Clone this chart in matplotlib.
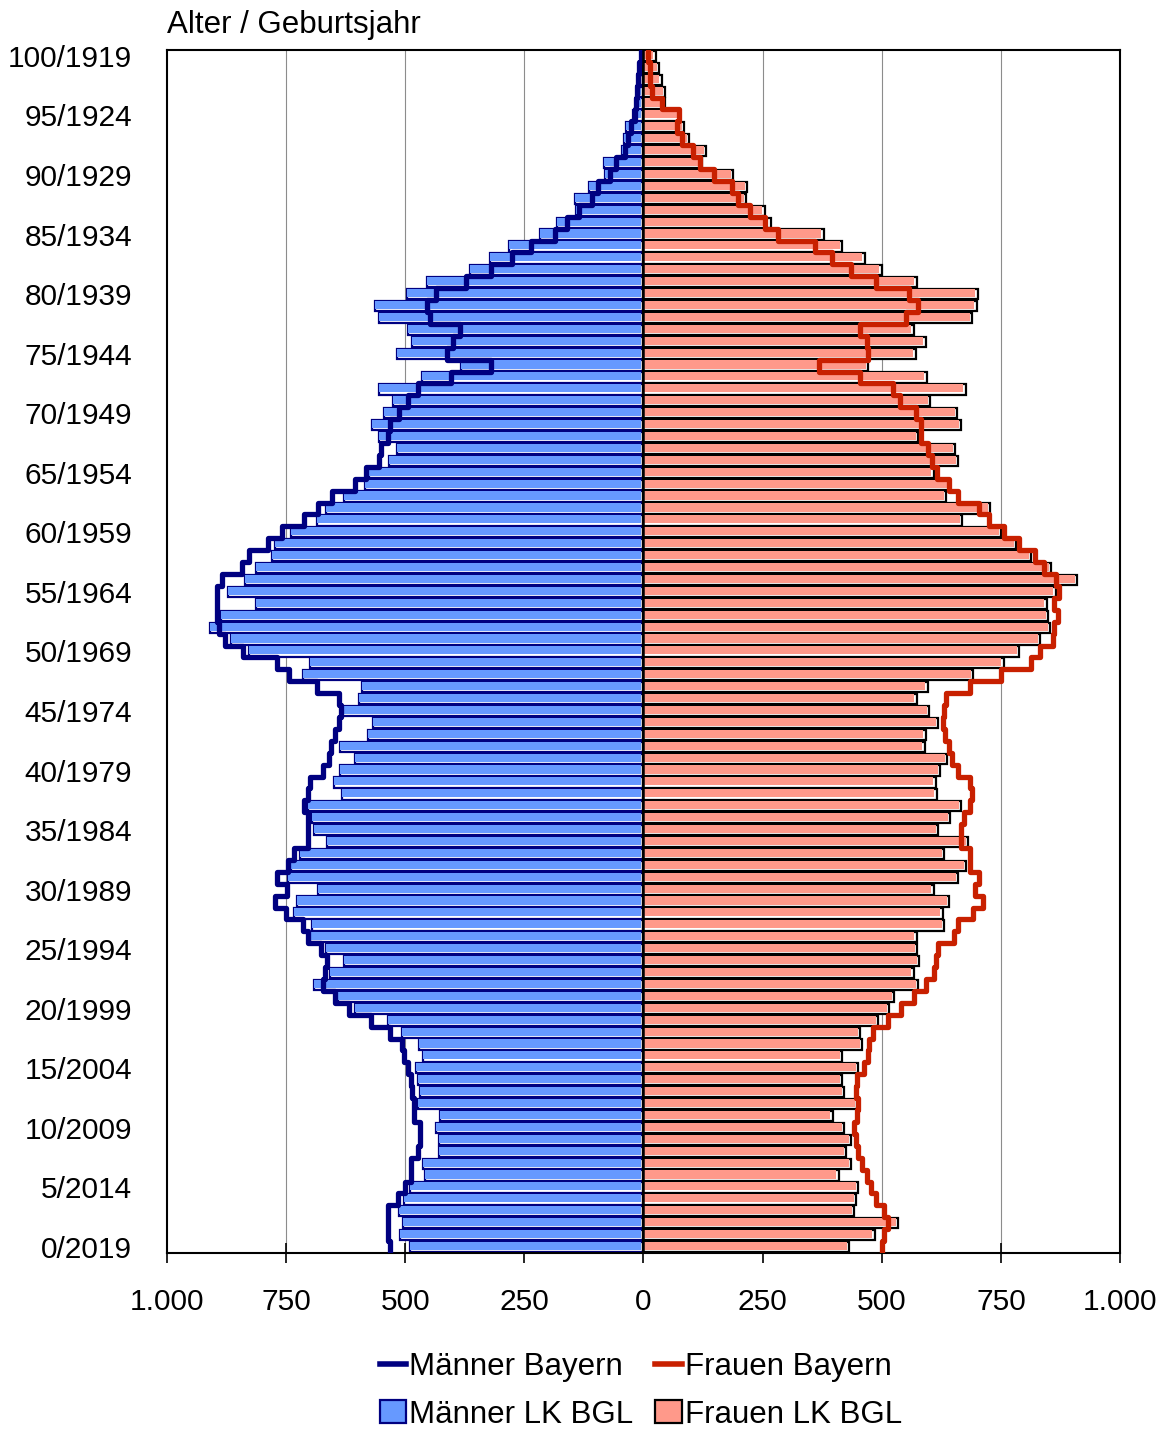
import numpy as np
from matplotlib import pyplot as plt
from matplotlib.patches import Patch
from matplotlib.lines import Line2D

plt.rcParams['font.family'] = ['Liberation Sans', 'DejaVu Sans']

# age 0 .. 100, reference year 2019
ages = np.arange(0, 101)
ref_year = 2019

# Landkreis BGL (bars)
men_bgl = [490, 510, 504, 513, 503, 491, 459, 462, 429, 429,
           436, 426, 474, 469, 474, 477, 462, 472, 506, 536,
           605, 641, 692, 658, 628, 667, 699, 695, 733, 728,
           682, 746, 740, 721, 664, 692, 695, 703, 632, 650,
           637, 605, 637, 579, 567, 633, 596, 590, 714, 699,
           827, 865, 910, 887, 814, 872, 836, 814, 779, 773,
           740, 686, 667, 628, 585, 577, 533, 518, 556, 569,
           544, 526, 556, 464, 382, 518, 485, 494, 556, 564,
           497, 454, 365, 323, 282, 218, 182, 141, 144, 115,
           80, 83, 45, 41, 36, 22, 15, 10, 8, 6, 5]
women_bgl = [432, 485, 535, 442, 446, 451, 410, 436, 426, 436,
             421, 397, 449, 421, 417, 451, 417, 459, 455, 492,
             515, 526, 577, 567, 578, 574, 573, 631, 628, 641,
             609, 660, 677, 631, 682, 619, 644, 667, 615, 613,
             622, 637, 590, 592, 618, 600, 573, 596, 692, 756,
             788, 833, 853, 849, 846, 865, 910, 855, 814, 782,
             750, 669, 728, 635, 641, 609, 660, 654, 577, 667,
             658, 601, 676, 594, 471, 571, 592, 567, 690, 699,
             701, 573, 500, 464, 417, 378, 267, 254, 215, 218,
             188, 122, 131, 96, 85, 77, 45, 45, 38, 33, 26]

# Bayern, scaled (step lines)
men_bay = [532, 536, 537, 537, 515, 500, 487, 487, 474, 468,
           468, 481, 481, 485, 487, 494, 503, 506, 532, 571,
           618, 647, 673, 669, 664, 677, 705, 714, 750, 773,
           749, 769, 746, 733, 705, 703, 703, 712, 705, 699,
           673, 660, 656, 647, 638, 635, 638, 686, 744, 769,
           840, 878, 890, 895, 895, 895, 885, 842, 827, 788,
           759, 712, 682, 654, 605, 583, 554, 551, 536, 532,
           513, 494, 474, 403, 321, 413, 400, 385, 449, 455,
           436, 372, 321, 276, 237, 186, 160, 135, 109, 96,
           70, 58, 38, 32, 26, 18, 15, 13, 11, 9, 5]
women_bay = [501, 505, 513, 505, 487, 477, 468, 459, 451, 446,
             442, 449, 451, 446, 449, 462, 472, 474, 482, 513,
             541, 567, 592, 609, 613, 618, 651, 660, 692, 712,
             695, 705, 686, 686, 667, 667, 673, 686, 690, 686,
             660, 647, 641, 632, 628, 631, 635, 686, 750, 814,
             833, 859, 862, 869, 862, 872, 865, 840, 821, 788,
             756, 724, 705, 660, 641, 615, 605, 596, 583, 583,
             571, 538, 523, 455, 369, 472, 468, 455, 551, 577,
             558, 487, 436, 395, 359, 282, 256, 224, 199, 186,
             147, 118, 103, 80, 70, 74, 38, 17, 13, 13, 10]

men_bgl = np.array(men_bgl, dtype=float)
women_bgl = np.array(women_bgl, dtype=float)
men_bay = np.array(men_bay, dtype=float)
women_bay = np.array(women_bay, dtype=float)

MEN_FILL = "#6699ff"
MEN_EDGE = "#000080"
WOMEN_FILL = "#ff998a"
WOMEN_EDGE = "#000000"
MEN_LINE = "#000080"
WOMEN_LINE = "#c82000"

fig = plt.figure(figsize=(11.65, 14.31), dpi=100)
ax = fig.add_axes([0.1433, 0.1244, 0.8181, 0.8407])

# bars: white outlined box with an inset colour fill
box_h = 0.86
fill_h = 0.68
inset = 5.0
ax.barh(ages, -men_bgl, height=box_h, color="white", edgecolor=MEN_EDGE, lw=1.6, zorder=2)
ax.barh(ages + (box_h - fill_h) / 2, -(men_bgl - inset), left=-inset, height=fill_h,
        color=MEN_FILL, lw=0, zorder=3)
ax.barh(ages, women_bgl, height=box_h, color="white", edgecolor=WOMEN_EDGE, lw=1.6, zorder=2)
ax.barh(ages + (box_h - fill_h) / 2, women_bgl - inset, height=fill_h,
        color=WOMEN_FILL, lw=0, zorder=3)

# step lines: vertical segment over each age band
y_steps = np.column_stack([ages - 0.5, ages + 0.5]).ravel()
ax.plot(-np.repeat(men_bay, 2), y_steps, color=MEN_LINE, lw=3.8,
        solid_joinstyle="round", zorder=5)
ax.plot(np.repeat(women_bay, 2), y_steps, color=WOMEN_LINE, lw=3.8,
        solid_joinstyle="round", zorder=5)

ax.axvline(0, color="black", lw=1.8, zorder=6)

ax.set_xlim(-1000, 1000)
ax.set_ylim(-0.5, 100.5)

xt = np.arange(-1000, 1001, 250)
ax.set_xticks(xt)
ax.set_xticklabels([f"{abs(v):,}".replace(",", ".") for v in xt], fontsize=21.5)
ax.tick_params(axis="x", direction="inout", length=15, width=1.2, pad=18)
for v in xt:
    if v not in (-1000, 0, 1000):
        ax.axvline(v, color="#8c8c8c", lw=0.8, zorder=1)

yt = np.arange(0, 101, 5)
ax.set_yticks(yt)
ax.set_yticklabels([f"{a}/{ref_year - a}" for a in yt], fontsize=21.5)
ax.tick_params(axis="y", length=0, pad=25)

for s in ax.spines.values():
    s.set_linewidth(1.5)

fig.text(0.143, 0.9825, "Alter / Geburtsjahr", fontsize=22.5, ha="left", va="center")

handles = [
    Line2D([], [], color=MEN_LINE, lw=4),
    Patch(facecolor=MEN_FILL, edgecolor=MEN_EDGE, lw=1.6),
    Line2D([], [], color=WOMEN_LINE, lw=4),
    Patch(facecolor=WOMEN_FILL, edgecolor=WOMEN_EDGE, lw=1.6),
]
labels = ["Männer Bayern", "Männer LK BGL", "Frauen Bayern", "Frauen LK BGL"]
fig.legend(handles, labels, loc="center", bbox_to_anchor=(0.55, 0.028), ncol=2,
           frameon=False, fontsize=22.5, handlelength=0.85, handleheight=0.75,
           handletextpad=0.1, columnspacing=0.7, labelspacing=0.55)

fig.savefig("out.png", dpi=100)
